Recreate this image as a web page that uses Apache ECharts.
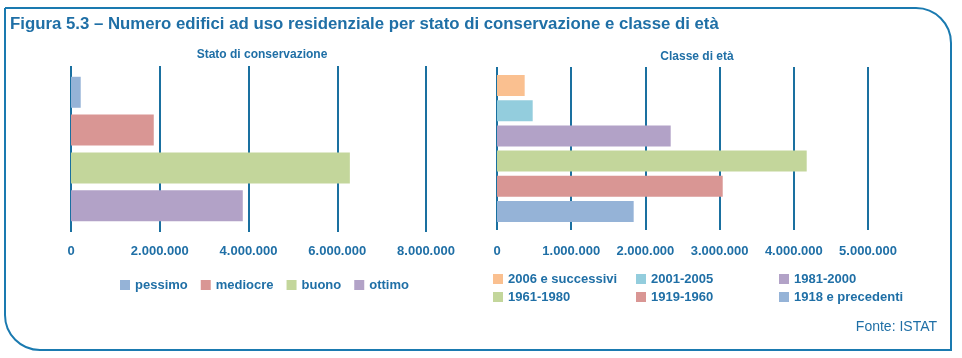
<!DOCTYPE html>
<html>
<head>
<meta charset="utf-8">
<script src="https://cdn.jsdelivr.net/npm/echarts@6/dist/echarts.min.js"></script>
<style>
html,body{margin:0;padding:0;background:#fff;}
#c{width:962px;height:358px;}
</style>
</head>
<body>
<div id="c"></div>
<script>
const conservazioneCategorie = ['pessimo', 'mediocre', 'buono', 'ottimo'];
const conservazioneValori = [219000, 1865000, 6284000, 3871000];
const conservazioneColori = ['#95b3d7', '#d99694', '#c3d69b', '#b2a2c7'];

const etaCategorie = ['2006 e successivi', '2001-2005', '1981-2000', '1961-1980', '1919-1960', '1918 e precedenti'];
const etaValori = [373000, 481000, 2341000, 4174000, 3042000, 1842000];
const etaColori = ['#fac090', '#93cddd', '#b2a2c7', '#c3d69b', '#d99694', '#95b3d7'];

const FONT = '"Liberation Sans", Arial, sans-serif';
const BLUE = '#1f6fa6';
const GRID = '#1a70a0';

function fmt(v) {
  return String(Math.round(v)).replace(/\B(?=(\d{3})+(?!\d))/g, '.');
}

const chart = echarts.init(document.getElementById('c'), null, {renderer: 'canvas'});

const series = [];
conservazioneCategorie.forEach((name, i) => {
  series.push({
    name: name, type: 'bar', xAxisIndex: 0, yAxisIndex: 0,
    data: [conservazioneValori[i]], barWidth: 31, barGap: '22%',
    itemStyle: {color: conservazioneColori[i]}, animation: false
  });
});
etaCategorie.forEach((name, i) => {
  series.push({
    name: name, type: 'bar', xAxisIndex: 1, yAxisIndex: 1,
    data: [etaValori[i]], barWidth: 21, barGap: '20%',
    itemStyle: {color: etaColori[i]}, animation: false
  });
});

const legendText = {color: BLUE, fontWeight: 'bold', fontSize: 13, fontFamily: FONT, lineHeight: 14};

function xAxisCfg(gridIndex, max, interval, margin) {
  return {
    type: 'value', gridIndex: gridIndex, min: 0, max: max, interval: interval,
    axisLine: {show: false}, axisTick: {show: false},
    splitLine: {show: true, lineStyle: {color: GRID, width: 2}},
    axisLabel: {formatter: fmt, color: BLUE, fontWeight: 'bold', fontSize: 13, fontFamily: FONT, margin: margin}
  };
}
function yAxisCfg(gridIndex) {
  return {
    type: 'category', gridIndex: gridIndex, data: [''], inverse: true,
    axisLine: {show: false}, axisTick: {show: false}, axisLabel: {show: false}, splitLine: {show: false}
  };
}

chart.setOption({
  animation: false,
  textStyle: {fontFamily: FONT},
  title: [
    {text: 'Figura 5.3 – Numero edifici ad uso residenziale per stato di conservazione e classe di età',
     left: 10, top: 16, padding: 0,
     textStyle: {color: BLUE, fontWeight: 'bold', fontSize: 16.8, fontFamily: FONT}},
    {text: 'Stato di conservazione', left: 262, top: 49, textAlign: 'center', padding: 0,
     textStyle: {color: BLUE, fontWeight: 'bold', fontSize: 12, fontFamily: FONT}},
    {text: 'Classe di età', left: 697, top: 51, textAlign: 'center', padding: 0,
     textStyle: {color: BLUE, fontWeight: 'bold', fontSize: 12, fontFamily: FONT}},
    {text: 'Fonte: ISTAT', right: 25, top: 320, padding: 0,
     textStyle: {color: BLUE, fontWeight: 'normal', fontSize: 14, fontFamily: FONT}}
  ],
  grid: [
    {left: 71, top: 66, width: 355, height: 166},
    {left: 497, top: 67, width: 371, height: 163}
  ],
  xAxis: [xAxisCfg(0, 8000000, 2000000, 13), xAxisCfg(1, 5000000, 1000000, 15)],
  yAxis: [yAxisCfg(0), yAxisCfg(1)],
  legend: [
    {data: conservazioneCategorie, left: 120, top: 278, orient: 'horizontal', padding: 0,
     itemWidth: 10, itemHeight: 10, itemGap: 13, icon: 'rect', textStyle: legendText, selectedMode: false},
    {data: [etaCategorie[0], etaCategorie[3]], left: 493, top: 272, orient: 'vertical', padding: 0,
     itemWidth: 10, itemHeight: 10, itemGap: 4, icon: 'rect', textStyle: legendText, selectedMode: false},
    {data: [etaCategorie[1], etaCategorie[4]], left: 636, top: 272, orient: 'vertical', padding: 0,
     itemWidth: 10, itemHeight: 10, itemGap: 4, icon: 'rect', textStyle: legendText, selectedMode: false},
    {data: [etaCategorie[2], etaCategorie[5]], left: 779, top: 272, orient: 'vertical', padding: 0,
     itemWidth: 10, itemHeight: 10, itemGap: 4, icon: 'rect', textStyle: legendText, selectedMode: false}
  ],
  graphic: [
    {type: 'rect', shape: {x: 5, y: 8, width: 946, height: 342, r: [0, 35, 0, 35]},
     style: {fill: 'none', stroke: '#1a7ab0', lineWidth: 2}, silent: true, z: -1}
  ],
  series: series
});
</script>
</body>
</html>
